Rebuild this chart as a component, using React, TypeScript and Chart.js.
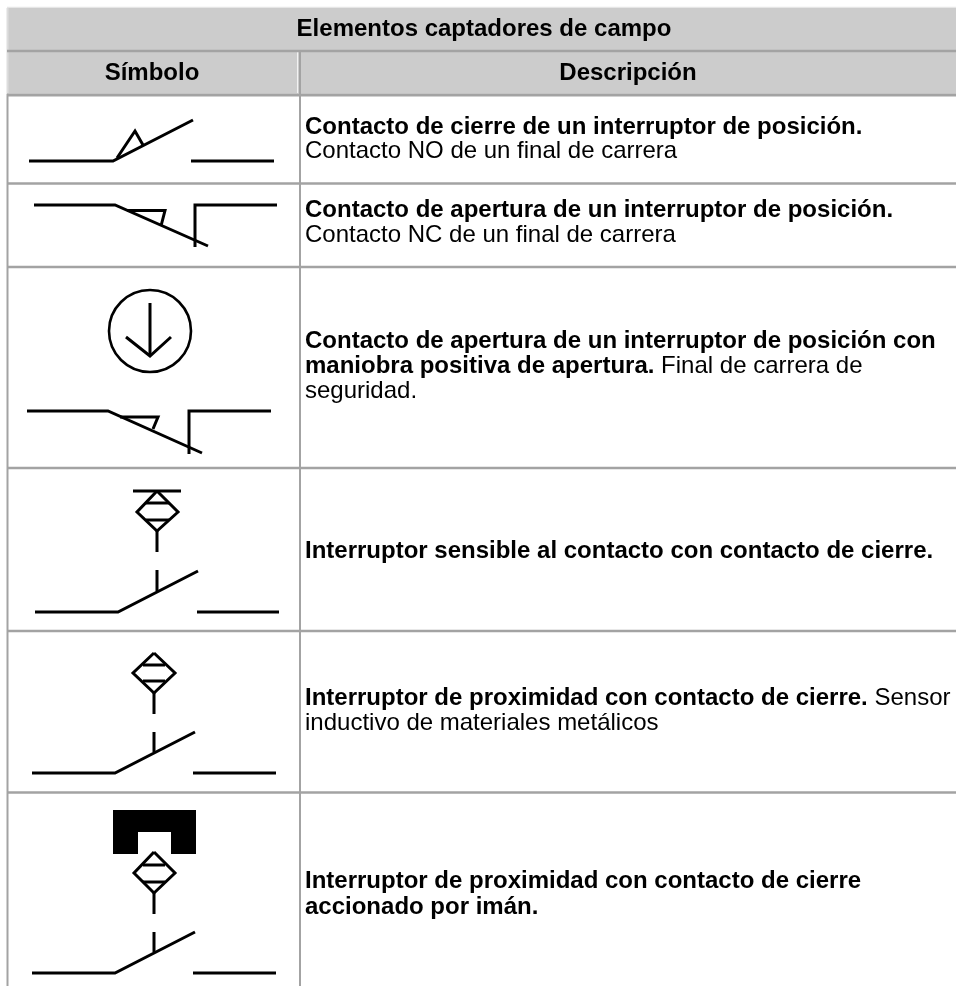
import React, { useEffect, useRef } from "react";
import { Chart, registerables } from "chart.js";

Chart.register(...registerables);

type P = [number, number];

// Table structure, in picture units
const headerBands: [number, number][] = [[8, 50.5], [52, 93.5]];
const rowRules = [51, 95, 183.5, 267, 468, 631, 792.5];
const columnRules = [7.5, 300];

// Symbol strokes
const symbolOne: P[][] = [
  [[29, 161], [113, 161], [193, 120]],
  [[191, 161], [274, 161]],
  [[117, 158], [135, 131], [143, 145]],
];
const symbolTwo: P[][] = [
  [[34, 205], [115, 205], [208, 246]],
  [[195, 247], [195, 205], [277, 205]],
  [[127, 210.5], [165, 210.5], [161, 226]],
];
const symbolThree: P[][] = [
  [[27, 411], [108, 411], [202, 453]],
  [[189, 454], [189, 411], [271, 411]],
  [[120, 417], [158, 417], [153, 429]],
  [[150, 303], [150, 356]],
  [[126, 337], [150, 356], [171, 337]],
];
const symbolThreeCircle: P[] = [[150, 331]];
const symbolFour: P[][] = [
  [[133, 491], [181, 491]],
  [[157, 491], [137, 512], [157, 531], [178, 512], [157, 491]],
  [[146, 503], [169, 503]],
  [[146, 520], [169, 520]],
  [[157, 531], [157, 552]],
  [[157, 570], [157, 591]],
  [[35, 612], [118, 612], [198, 571]],
  [[197, 612], [279, 612]],
];
const symbolFive: P[][] = [
  [[154, 653], [133, 673], [154, 693], [175, 673], [154, 653]],
  [[143, 665], [165, 665]],
  [[143, 681], [165, 681]],
  [[154, 693], [154, 714]],
  [[154, 732], [154, 752]],
  [[32, 773], [115, 773], [195, 732]],
  [[193, 773], [276, 773]],
];
const symbolSix: P[][] = [
  [[154, 852], [134, 873], [154, 893], [175, 873], [154, 852]],
  [[143, 865], [165, 865]],
  [[143, 882], [165, 882]],
  [[154, 893], [154, 914]],
  [[154, 932], [154, 952]],
  [[32, 973], [115, 973], [195, 932]],
  [[193, 973], [276, 973]],
];
const magnetParts: P[][] = [
  [[113, 821], [196, 821]],
  [[125.5, 810], [125.5, 854]],
  [[183.5, 810], [183.5, 854]],
];

// Texts
type Run = [string, boolean];
type Line = { x: number; y: number; runs: Run[]; centered?: boolean };

const headerTitle = "Elementos captadores de campo";
const symbolHeading = "Símbolo";
const descriptionHeading = "Descripción";

const descriptionLines: Line[] = [
  { x: 305, y: 134, runs: [["Contacto de cierre de un interruptor de posición.", true]] },
  { x: 305, y: 158, runs: [["Contacto NO de un final de carrera", false]] },
  { x: 305, y: 217, runs: [["Contacto de apertura de un interruptor de posición.", true]] },
  { x: 305, y: 242, runs: [["Contacto NC de un final de carrera", false]] },
  { x: 305, y: 348, runs: [["Contacto de apertura de un interruptor de posición con", true]] },
  { x: 305, y: 373, runs: [["maniobra positiva de apertura.", true], [" Final de carrera de", false]] },
  { x: 305, y: 398, runs: [["seguridad.", false]] },
  { x: 305, y: 558, runs: [["Interruptor sensible al contacto con contacto de cierre.", true]] },
  { x: 305, y: 705, runs: [["Interruptor de proximidad con contacto de cierre.", true], [" Sensor", false]] },
  { x: 305, y: 730, runs: [["inductivo de materiales metálicos", false]] },
  { x: 305, y: 888, runs: [["Interruptor de proximidad con contacto de cierre", true]] },
  { x: 305, y: 914, runs: [["accionado por imán.", true]] },
];

const allLines: Line[] = [
  { x: 484, y: 36, centered: true, runs: [[headerTitle, true]] },
  { x: 152, y: 80, centered: true, runs: [[symbolHeading, true]] },
  { x: 628, y: 80, centered: true, runs: [[descriptionHeading, true]] },
  ...descriptionLines,
];

const toPoints = (s: P[]) => s.map(([x, y]) => ({ x, y }));

const stroke = (s: P[], color: string, width: number) => ({
  type: "scatter" as const,
  showLine: true,
  data: toPoints(s),
  borderColor: color,
  backgroundColor: "transparent",
  borderWidth: width,
  pointRadius: 0,
  tension: 0,
  fill: false,
});

const textPlugin = {
  id: "tableText",
  afterDatasetsDraw(chart: any) {
    const { ctx, scales } = chart;
    ctx.save();
    ctx.fillStyle = "#000";
    ctx.textBaseline = "alphabetic";
    ctx.textAlign = "left";
    const font = (b: boolean) => `${b ? "bold " : ""}24px "Liberation Sans", Arial, sans-serif`;
    for (const line of allLines) {
      let width = 0;
      for (const [t, b] of line.runs) {
        ctx.font = font(b);
        width += ctx.measureText(t).width;
      }
      let px = scales.x.getPixelForValue(line.x) - (line.centered ? width / 2 : 0);
      const py = scales.y.getPixelForValue(line.y);
      for (const [t, b] of line.runs) {
        ctx.font = font(b);
        ctx.fillText(t, px, py);
        px += ctx.measureText(t).width;
      }
    }
    ctx.restore();
  },
};

export default function App() {
  const ref = useRef<HTMLCanvasElement>(null);
  useEffect(() => {
    document.body.style.margin = "0";
    document.body.style.background = "#fff";
    const ink = "#000";
    const rule = "#a3a3a3";
    const datasets: any[] = [];
    [symbolOne, symbolTwo, symbolThree, symbolFour, symbolFive, symbolSix].forEach((sym) =>
      sym.forEach((s) => datasets.push(stroke(s, ink, 3)))
    );
    magnetParts.forEach((s, i) => datasets.push(stroke(s, ink, i === 0 ? 22 : 25)));
    datasets.push({
      type: "scatter",
      data: toPoints(symbolThreeCircle),
      pointStyle: "circle",
      pointRadius: 41,
      pointBorderWidth: 2.6,
      pointBorderColor: ink,
      pointBackgroundColor: "transparent",
      showLine: false,
    });
    rowRules.forEach((y, i) => datasets.push(stroke([[7, y], [956, y]], rule, i === 1 ? 3 : 2.4)));
    datasets.push(stroke([[7.5, 94], [7.5, 986]], rule, 2));
    datasets.push(stroke([[columnRules[1], 52], [columnRules[1], 986]], rule, 2));
    datasets.push(stroke([[297.5, 52], [297.5, 93]], "#f2f2f2", 1));
    datasets.push(stroke([[7.5, 8], [7.5, 94]], "#dddddd", 2));
    headerBands.forEach(([a, b]) =>
      datasets.push(stroke([[8, (a + b) / 2], [956, (a + b) / 2]], "#cccccc", b - a))
    );
    datasets.push(stroke([[7, 7.5], [956, 7.5]], "#e6e6e6", 1.5));

    const chart = new Chart(ref.current!, {
      type: "scatter",
      data: { datasets },
      options: {
        animation: false,
        responsive: false,
        events: [],
        layout: { padding: 0, autoPadding: false },
        plugins: { legend: { display: false }, tooltip: { enabled: false } },
        scales: {
          x: { type: "linear", min: 0, max: 956, display: false },
          y: { type: "linear", min: 0, max: 986, reverse: true, display: false },
        },
      },
      plugins: [textPlugin],
    });
    return () => chart.destroy();
  }, []);
  return (
    <canvas
      ref={ref}
      width={956}
      height={986}
      style={{ display: "block", width: 956, height: 986, filter: "blur(0.35px)" }}
    />
  );
}
